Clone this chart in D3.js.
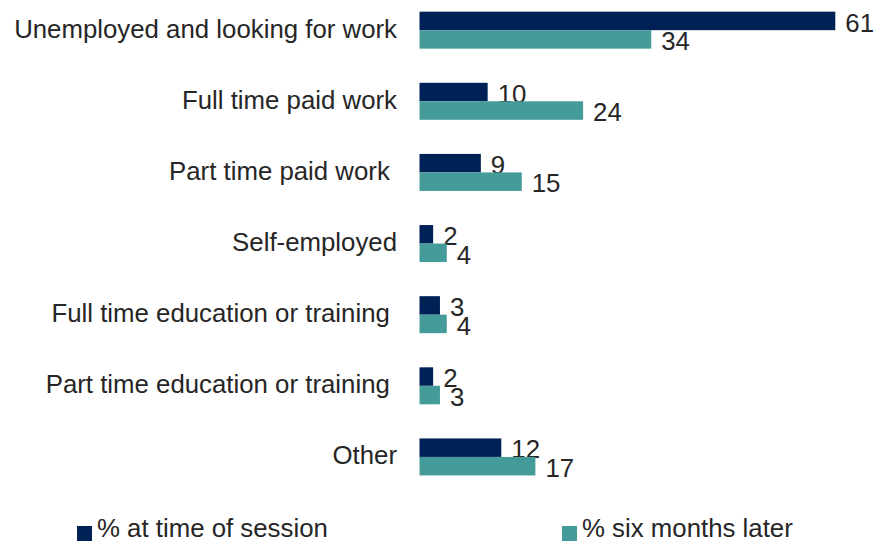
<!DOCTYPE html>
<html>
<head>
<meta charset="utf-8">
<script src="https://cdn.jsdelivr.net/npm/d3@7"></script>
<style>
  html, body { margin: 0; padding: 0; background: #fff; }
  svg { display: block; }
  text { font-family: "Liberation Sans", Arial, sans-serif; }
</style>
</head>
<body>
<svg id="chart" width="876" height="541"></svg>
<script>
const categories = [
  "Unemployed and looking for work",
  "Full time paid work",
  "Part time paid work ",
  "Self-employed",
  "Full time education or training ",
  "Part time education or training ",
  "Other"
];
const seriesNames = ["% at time of session", "% six months later"];
const atSession = [61, 10, 9, 2, 3, 2, 12];
const sixMonthsLater = [34, 24, 15, 4, 4, 3, 17];
const colors = ["#002156", "#449b9a"];

const svg = d3.select("#chart");
const textColor = "#262626";
const fontSize = 25.8;

const y = d3.scaleBand()
  .domain(categories)
  .range([-5.4, 492.5])
  .paddingInner(0.48)
  .paddingOuter(0.24);

const sub = d3.scaleBand()
  .domain([0, 1])
  .range([0, y.bandwidth()]);

const x = d3.scaleLinear()
  .domain([0, d3.max(atSession)])
  .range([419.5, 835.3]);

const series = [atSession, sixMonthsLater];

// Category labels
svg.append("g").selectAll("text")
  .data(categories)
  .join("text")
  .attr("x", 397)
  .attr("y", d => y(d) + y.bandwidth() / 2 + 7.5)
  .attr("text-anchor", "end")
  .attr("xml:space", "preserve")
  .style("white-space", "pre")
  .attr("font-size", fontSize)
  .attr("fill", textColor)
  .text(d => d);

// Bars and value labels
series.forEach((vals, si) => {
  const g = svg.append("g");
  g.selectAll("rect")
    .data(vals)
    .join("rect")
    .attr("x", x(0))
    .attr("y", (d, i) => y(categories[i]) + sub(si))
    .attr("width", d => x(d) - x(0))
    .attr("height", sub.bandwidth())
    .attr("fill", colors[si]);
  g.selectAll("text")
    .data(vals)
    .join("text")
    .attr("x", d => x(d) + 10)
    .attr("y", (d, i) => y(categories[i]) + sub(si) + sub.bandwidth() + 1.5)
    .attr("font-size", fontSize)
    .attr("fill", textColor)
    .text(d => d);
});

// Legend
const legendX = [77, 562];
const legend = svg.append("g");
seriesNames.forEach((name, i) => {
  legend.append("rect")
    .attr("x", legendX[i])
    .attr("y", 526)
    .attr("width", 15)
    .attr("height", 15)
    .attr("fill", colors[i]);
  legend.append("text")
    .attr("x", legendX[i] + 20)
    .attr("y", 537)
    .attr("font-size", fontSize)
    .attr("fill", textColor)
    .text(name);
});
</script>
</body>
</html>
